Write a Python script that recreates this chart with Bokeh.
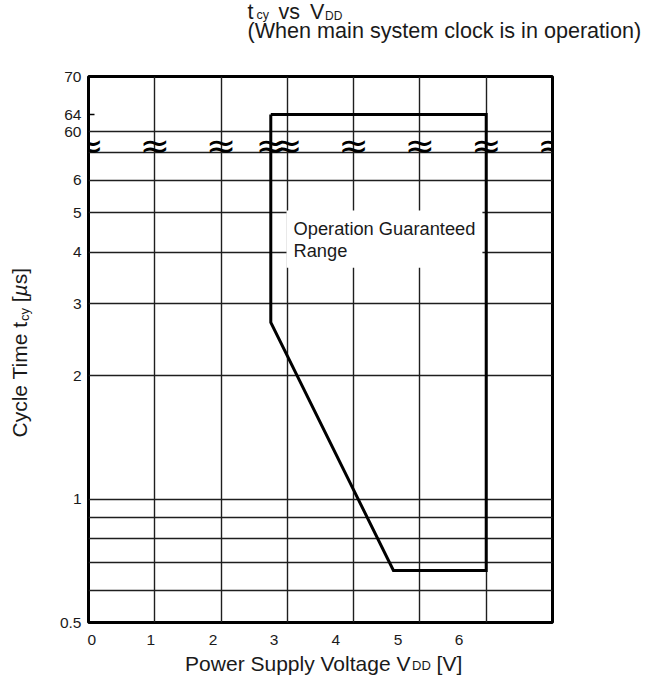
import numpy as np
from bokeh.plotting import figure
from bokeh.layouts import column, row
from bokeh.models import FixedTicker, Range1d, Label, AllLabels
from bokeh.core.properties import value
from bokeh.embed import file_html
from bokeh.resources import INLINE

# ---------------- data ----------------
# Operation guaranteed range boundary (VDD in V, tcy in microseconds)
vdd = [2.75, 2.75, 4.6, 6.0, 6.0, 2.75]
tcy = [64.0, 2.7, 0.67, 0.67, 64.0, 64.0]

x_grid = [1, 2, 3, 4, 5, 6]
y_grid_lower = [0.6, 0.7, 0.8, 0.9, 1, 2, 3, 4, 5, 6, 7]
y_grid_upper = [60]
y_labels_lower = [0.5, 1, 2, 3, 4, 5, 6]
y_labels_upper = [60, 64, 70]
x_tick_labels = ["0", "1", "2", "3", "4", "5", "6"]
x_tick_pos = [0.05, 0.94, 1.88, 2.80, 3.73, 4.67, 5.59]
break_x = [0, 1, 2, 2.75, 3, 4, 5, 6, 7]

# ---------------- broken y axis ----------------
LOWER_TOP = 7
UPPER_VALUES = [60, 64, 70]
UPPER_POS = [7.89, 8.68, 10.75]   # where the upper values sit on the log axis
BREAK_POS = 7.29


def y_axis(v):
    return float(v) if v <= LOWER_TOP else float(np.interp(v, UPPER_VALUES, UPPER_POS))


tcy_plot = [y_axis(v) for v in tcy]

FONT = "Liberation Sans"
INK = "#1a1a1a"

# ---------------- layout sizes (page px) ----------------
TOTAL_W = 646
TOP_H = 50
MID_H = 603
BOT_H = 27
LEFT_W = 40
MAIN_W = TOTAL_W - LEFT_W

p = figure(width=MAIN_W, height=MID_H, x_range=Range1d(0, 7),
           y_range=Range1d(0.5, y_axis(70)), y_axis_type="log",
           output_backend="svg", toolbar_location=None,
           min_border_left=48, min_border_right=TOTAL_W - 552,
           min_border_top=26, min_border_bottom=31)
p.background_fill_color = "white"
p.border_fill_color = "white"
p.outline_line_color = "black"
p.outline_line_width = 3

# x axis
p.xaxis.ticker = FixedTicker(ticks=x_tick_pos)
p.xaxis.major_label_overrides = {float(k): s for k, s in zip(x_tick_pos, x_tick_labels)}
p.xaxis.major_tick_in = 0
p.xaxis.major_tick_out = 0
p.xaxis.minor_tick_line_color = None
p.xaxis.axis_line_color = None
p.xaxis.major_label_standoff = 12
p.xaxis.major_label_text_font = FONT
p.xaxis.major_label_text_font_size = "15.5px"
p.xaxis.major_label_text_color = INK
p.xaxis.major_label_policy = AllLabels()

# y axis
y_tick_vals = [float(v) for v in y_labels_lower] + [y_axis(v) for v in y_labels_upper]
y_tick_text = [str(v) for v in y_labels_lower] + [str(v) for v in y_labels_upper]
p.yaxis.ticker = FixedTicker(ticks=y_tick_vals, minor_ticks=[y_axis(64)])
p.yaxis.major_label_overrides = dict(zip(y_tick_vals, y_tick_text))
p.yaxis.major_tick_in = 0
p.yaxis.major_tick_out = 0
p.yaxis.minor_tick_in = 6
p.yaxis.minor_tick_out = 0
p.yaxis.minor_tick_line_color = "black"
p.yaxis.minor_tick_line_width = 1.5
p.yaxis.axis_line_color = None
p.yaxis.major_label_standoff = 7
p.yaxis.major_label_text_font = FONT
p.yaxis.major_label_text_font_size = "15.5px"
p.yaxis.major_label_text_color = INK
p.yaxis.major_label_policy = AllLabels()

# grids
p.xgrid.ticker = FixedTicker(ticks=x_grid)
p.ygrid.ticker = FixedTicker(ticks=[float(v) for v in y_grid_lower] + [y_axis(v) for v in y_grid_upper])
for g in (p.xgrid, p.ygrid):
    g.grid_line_color = "#1e1e1e"
    g.grid_line_width = 1.4
    g.grid_line_alpha = 1.0

# boundary curve
p.line(vdd, tcy_plot, line_width=3, line_color="black", line_join="miter")

# axis break marks
p.text(x=break_x, y=[BREAK_POS] * len(break_x), text=["≈"] * len(break_x),
       text_align="center", text_baseline="middle",
       text_font=value("DejaVu Sans"), text_font_size="36px", text_color="black")

# region label
p.add_layout(Label(x=2.987, y=5.06, text="Operation Guaranteed\nRange",
                   text_align="left", text_baseline="top",
                   text_font=FONT, text_font_size="18.3px", text_color=INK,
                   text_line_height=1.06,
                   background_fill_color="white", padding=7))


# ---------------- text panels around the chart ----------------
def text_panel(w, h):
    f = figure(width=w, height=h, x_range=Range1d(0, w), y_range=Range1d(0, h),
               x_axis_location=None, y_axis_location=None,
               output_backend="svg", toolbar_location=None, min_border=0)
    f.outline_line_color = None
    f.background_fill_color = "white"
    f.border_fill_color = "white"
    f.xgrid.visible = False
    f.ygrid.visible = False
    return f


CENTER_SHIFT = 0.3465   # baseline offset below the label anchor, in em


def txt(f, x0, y0, h, X, Y, s, size, style="normal"):
    # horizontal text; X, Y: page position of the baseline start
    Yc = Y - CENTER_SHIFT * size
    f.add_layout(Label(x=X - x0, y=y0 + h - Yc, x_units="screen", y_units="screen",
                       text=s, text_font=FONT, text_font_size=f"{size}px",
                       text_font_style=style, text_color=INK,
                       text_align="left", text_baseline="alphabetic"))


def vtxt(f, x0, y0, h, X, Y, s, size, style="normal"):
    # text rotated 90 deg; X, Y: page position of the baseline start
    Xc = X - CENTER_SHIFT * size
    Yc = Y + 30
    f.add_layout(Label(x=Xc - x0, y=y0 + h - Yc, x_units="screen", y_units="screen",
                       text=s, text_font=FONT, text_font_size=f"{size}px",
                       text_font_style=style, text_color=INK, angle=np.pi / 2,
                       text_align="left", text_baseline="alphabetic"))


# title panel
top = text_panel(TOTAL_W, TOP_H)
T = (top, 0, 0, TOP_H)
txt(*T, 247, 19.3, "t", 21.5)
txt(*T, 256, 19.3, "cy", 12.5)
txt(*T, 278, 19.3, "vs", 21.5)
txt(*T, 309.5, 19.3, "V", 21.5)
txt(*T, 324.5, 19.3, "DD", 12)
txt(*T, 247, 37.5, "(When main system clock is in operation)", 21.6)

# y-axis title panel (rotated)
left = text_panel(LEFT_W, MID_H)
Lp = (left, 0, TOP_H, MID_H)
vtxt(*Lp, 26.7, 438, "Cycle Time t", 21)
vtxt(*Lp, 28.2, 321.6, "cy", 13)
vtxt(*Lp, 26.7, 302.8, "[", 21)
vtxt(*Lp, 26.7, 296.9, "µ", 21, "italic")
vtxt(*Lp, 26.7, 284.8, "s]", 21)

# x-axis title panel
bot = text_panel(TOTAL_W, BOT_H)
B = (bot, 0, TOP_H + MID_H, BOT_H)
txt(*B, 184.6, 670, "Power Supply Voltage V", 21)
txt(*B, 411.5, 670, "DD", 13)
txt(*B, 436.1, 670, "[V]", 21)

layout = column(top, row(left, p), bot)
open("out.html", "w").write(file_html(layout, INLINE))
